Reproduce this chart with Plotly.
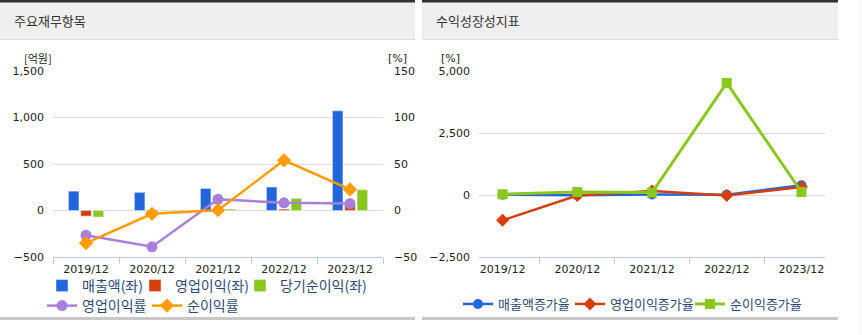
import plotly.graph_objects as go

W, H = 862, 335

categories = ["2019/12", "2020/12", "2021/12", "2022/12", "2023/12"]

# Left chart (억원 / %)
sales = [208, 195, 237, 252, 1072]
op_profit = [-60, -50, 10, 15, 65]
net_profit = [-70, -5, 15, 130, 223]
op_margin = [-26.6, -39.0, 12.0, 8.3, 7.5]
net_margin = [-35.0, -3.6, 0.3, 54.0, 22.7]

# Right chart (%)
sales_growth = [10, -10, 20, 10, 390]
op_growth = [-1020, -20, 160, -20, 320]
net_growth = [30, 120, 100, 4520, 120]

left_ticks = [-500, 0, 500, 1000, 1500]
right_ticks = [-50, 0, 50, 100, 150]
growth_ticks = [-2500, 0, 2500, 5000]

FONT = "Tahoma, 'DejaVu Sans', 'Noto Sans CJK KR', sans-serif"
KFONT = "'Noto Sans CJK KR', 'Noto Sans', sans-serif"

BLUE = "#2266dd"
RED = "#d63d0b"
GREEN = "#8ac71b"
PURPLE = "#a87fdc"
ORANGE = "#ff9c00"


def px(x):
    return x / W


def py(y):
    return (H - y) / H


fig = go.Figure()

fig.add_trace(go.Bar(x=categories, y=sales, name="매출액(좌)", marker_color=BLUE,
                     xaxis="x", yaxis="y", legend="legend"))
fig.add_trace(go.Bar(x=categories, y=op_profit, name="영업이익(좌)", marker_color=RED,
                     xaxis="x", yaxis="y", legend="legend2"))
fig.add_trace(go.Bar(x=categories, y=net_profit, name="당기순이익(좌)", marker_color=GREEN,
                     xaxis="x", yaxis="y", legend="legend3"))
fig.add_trace(go.Scatter(x=categories, y=op_margin, name="영업이익률", mode="lines+markers",
                         line=dict(color=PURPLE, width=2.5),
                         marker=dict(symbol="circle", size=11, color=PURPLE),
                         xaxis="x", yaxis="y2", legend="legend4"))
fig.add_trace(go.Scatter(x=categories, y=net_margin, name="순이익률", mode="lines+markers",
                         line=dict(color=ORANGE, width=2.5),
                         marker=dict(symbol="diamond", size=11, color=ORANGE),
                         xaxis="x", yaxis="y2", legend="legend5"))

fig.add_trace(go.Scatter(x=categories, y=sales_growth, name="매출액증가율", mode="lines+markers",
                         line=dict(color=BLUE, width=2.5),
                         marker=dict(symbol="circle", size=10, color=BLUE),
                         xaxis="x3", yaxis="y3", legend="legend6"))
fig.add_trace(go.Scatter(x=categories, y=op_growth, name="영업이익증가율", mode="lines+markers",
                         line=dict(color=RED, width=2.5),
                         marker=dict(symbol="diamond", size=10, color=RED),
                         xaxis="x3", yaxis="y3", legend="legend7"))
fig.add_trace(go.Scatter(x=categories, y=net_growth, name="순이익증가율", mode="lines+markers",
                         line=dict(color=GREEN, width=3),
                         marker=dict(symbol="square", size=10, color=GREEN),
                         xaxis="x3", yaxis="y3", legend="legend8"))

ydom = [py(257), py(71)]
axis_line = "#b7cbe6"
grid = "#dcdcdc"
tickfont = dict(family=FONT, size=11, color="#222")


def leg(x, y, size=14):
    return dict(orientation="h", x=px(x), y=py(y), xanchor="left", yanchor="top",
                font=dict(family=KFONT, size=size, color="#2b4a78"),
                bgcolor="rgba(0,0,0,0)", borderwidth=0)


fig.update_layout(
    width=W, height=H,
    margin=dict(l=0, r=0, t=0, b=0, autoexpand=False),
    paper_bgcolor="white", plot_bgcolor="white",
    font=dict(family=FONT, size=11, color="#333333"),
    barmode="group", bargap=0.44, bargroupgap=0.15,
    xaxis=dict(domain=[px(53), px(383)], anchor="y", showgrid=False,
               showline=True, linecolor=axis_line, linewidth=1,
               ticks="outside", tickson="boundaries", ticklen=6, tickcolor=axis_line,
               ticklabelstandoff=2, tickfont=tickfont, automargin=False),
    yaxis=dict(domain=ydom, anchor="x", range=[-500, 1500], tickvals=left_ticks,
               tickformat=",d", showgrid=True, gridcolor=grid, gridwidth=1,
               zeroline=False, showline=False, ticks="", ticklabelstandoff=8,
               tickfont=tickfont, automargin=False),
    yaxis2=dict(domain=ydom, anchor="x", overlaying="y", side="right",
                range=[-50, 150], tickvals=right_ticks, showgrid=False,
                zeroline=False, showline=False, ticks="", ticklabelstandoff=10,
                tickfont=tickfont, automargin=False),
    xaxis3=dict(domain=[px(479), px(825)], anchor="y3", showgrid=False,
                showline=True, linecolor=axis_line, linewidth=1,
                ticks="outside", tickson="boundaries", ticklen=6, tickcolor=axis_line,
                ticklabelstandoff=2, tickfont=tickfont, automargin=False),
    yaxis3=dict(domain=ydom, anchor="x3", range=[-2500, 5000], tickvals=growth_ticks,
                tickformat=",d", showgrid=True, gridcolor=grid, gridwidth=1,
                zeroline=False, showline=False, ticks="", ticklabelstandoff=8,
                tickfont=tickfont, automargin=False),
    legend=leg(42, 270),
    legend2=leg(135, 270),
    legend3=leg(240, 270),
    legend4=leg(42, 290),
    legend5=leg(147, 290),
    legend6=leg(458, 289, 13),
    legend7=leg(570, 289, 13),
    legend8=leg(690, 289, 13),
    showlegend=True,
)

shapes = []
for x0, x1 in [(0, 415), (422, 838)]:
    shapes.append(dict(type="rect", xref="paper", yref="paper", x0=px(x0), x1=px(x1),
                       y0=py(40), y1=py(2), fillcolor="#efefef", line=dict(width=0), layer="below"))
    shapes.append(dict(type="rect", xref="paper", yref="paper", x0=px(x0), x1=px(x1),
                       y0=py(40), y1=py(39), fillcolor="#dddddd", line=dict(width=0), layer="below"))
    shapes.append(dict(type="rect", xref="paper", yref="paper", x0=px(x0), x1=px(x1),
                       y0=py(2.5), y1=py(0), fillcolor="#333333", line=dict(width=0), layer="below"))
    shapes.append(dict(type="rect", xref="paper", yref="paper", x0=px(x0), x1=px(x1),
                       y0=py(320), y1=py(317), fillcolor="#c8c8c8", line=dict(width=0), layer="below"))
shapes.append(dict(type="line", xref="paper", yref="paper", x0=px(860), x1=px(860),
                   y0=0, y1=1, line=dict(color="#eeeeee", width=1)))
fig.update_layout(shapes=shapes)

annots = [
    dict(text="주요재무항목", x=px(12), y=py(21), xanchor="left", yanchor="middle",
         font=dict(family=KFONT, size=13, color="#333")),
    dict(text="수익성장성지표", x=px(434), y=py(21), xanchor="left", yanchor="middle",
         font=dict(family=KFONT, size=13, color="#333")),
    dict(text="[억원]", x=px(22), y=py(58), xanchor="left", yanchor="middle",
         font=dict(family=KFONT, size=11, color="#222")),
    dict(text="[%]", x=px(386), y=py(58), xanchor="left", yanchor="middle",
         font=dict(family=FONT, size=11, color="#222")),
    dict(text="[%]", x=px(439), y=py(58), xanchor="left", yanchor="middle",
         font=dict(family=FONT, size=11, color="#222")),
]
for a in annots:
    a.update(xref="paper", yref="paper", showarrow=False)
fig.update_layout(annotations=annots)

fig.write_html("out.html")
